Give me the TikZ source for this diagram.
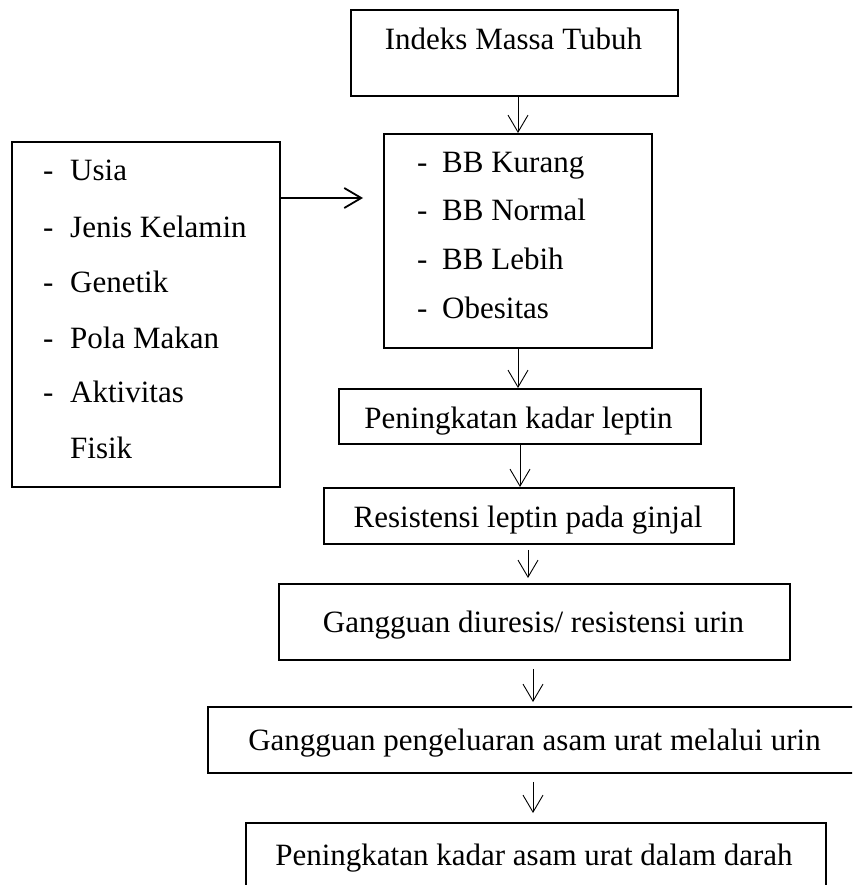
\documentclass[tikz,border=0pt]{standalone}
\usepackage{fontspec}
\setmainfont{Liberation Serif}
\usetikzlibrary{arrows.meta,calc}
\begin{document}
\begin{tikzpicture}[x=1pt,y=-1pt,
  box/.style={draw, line width=1.8pt, inner sep=0pt, anchor=north west},
  lbl/.style={inner sep=0pt, font=\fontsize{31}{36}\selectfont},
  arr/.style={line width=0.9pt, -{Straight Barb[length=17pt,width=20pt]}},
  harr/.style={line width=1.8pt, -{Straight Barb[length=17pt,width=20pt]}}]
\useasboundingbox (0,0) rectangle (852,885);
\clip (0,0) rectangle (852,885);
% boxes
\node[box, minimum width=327pt, minimum height=86pt]  (b1) at (350,9)   {};
\node[box, minimum width=268pt, minimum height=214pt] (b2) at (383,133) {};
\node[box, minimum width=268pt, minimum height=345pt] (lf) at (11,141)  {};
\node[box, minimum width=362pt, minimum height=55pt]  (b3) at (338,388) {};
\node[box, minimum width=410pt, minimum height=56pt]  (b4) at (323,487) {};
\node[box, minimum width=511pt, minimum height=76pt]  (b5) at (278,583) {};
\node[box, minimum width=655pt, minimum height=66pt]  (b6) at (207,706) {};
\node[box, minimum width=580pt, minimum height=80pt]  (b7) at (245,822) {};
% texts
\node[lbl, anchor=base] (t1) at (513.5,50) {Indeks Massa Tubuh};
\foreach \y/\t [count=\i] in {172.5/BB Kurang, 221/BB Normal, 269.5/BB Lebih, 318/Obesitas}{
  \node[lbl, anchor=base west] (d2\i) at (417,\y) {-};
  \node[lbl, anchor=base west] (i2\i) at (442,\y) {\t};
}
\foreach \y/\t [count=\i] in {181/Usia, 237/Jenis Kelamin, 292/Genetik, 348/Pola Makan, 402/Aktivitas}{
  \node[lbl, anchor=base west] (dl\i) at (43,\y) {-};
  \node[lbl, anchor=base west] (il\i) at (70,\y) {\t};
}
\node[lbl, anchor=base west] (il6) at (70,458) {Fisik};
\node[lbl, anchor=base] (t3) at (518.5,428) {Peningkatan kadar leptin};
\node[lbl, anchor=base] (t4) at (528,527) {Resistensi leptin pada ginjal};
\node[lbl, anchor=base] (t5) at (533.5,632) {Gangguan diuresis/ resistensi urin};
\node[lbl, anchor=base] (t6) at (534.5,750) {Gangguan pengeluaran asam urat melalui urin};
\node[lbl, anchor=base] (t7) at (534,865) {Peningkatan kadar asam urat dalam darah};
% connectors
\coordinate (x1) at (518,0);
\coordinate (x3) at (518,0);
\coordinate (x4) at (520,0);
\coordinate (x5) at (528,0);
\coordinate (x6) at (533,0);
\coordinate (x7) at (533,0);
\coordinate (yh) at (0,198);
\coordinate (he) at ($(b2.west |- yh)+(-20,0)$);
\draw[arr] (b1.south -| x1) -- (b2.north -| x1);
\draw[harr] (lf.east |- yh) -- (he);
\draw[arr] (b2.south -| x3) -- (b3.north -| x3);
\draw[arr] (b3.south -| x4) -- (b4.north -| x4);
\draw[arr, shorten <=5pt, shorten >=5pt] (b4.south -| x5) -- (b5.north -| x5);
\draw[arr, shorten <=8pt, shorten >=4pt] (b5.south -| x6) -- (b6.north -| x6);
\draw[arr, shorten <=8pt, shorten >=9pt] (b6.south -| x7) -- (b7.north -| x7);
\end{tikzpicture}
\end{document}
